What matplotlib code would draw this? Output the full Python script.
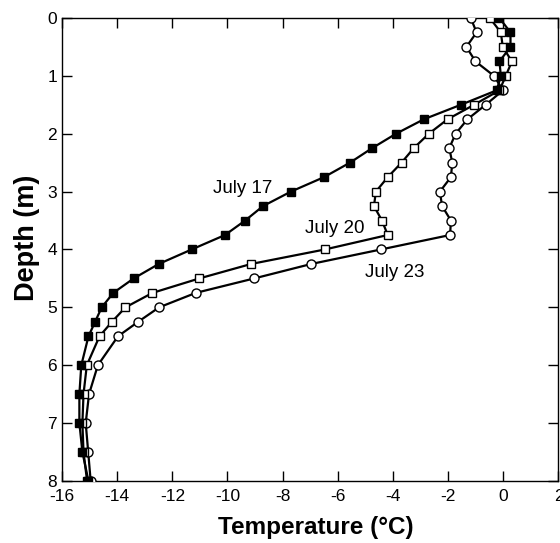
import matplotlib
matplotlib.use('Agg')
import matplotlib.pyplot as plt

plt.rcParams['font.family'] = ['Liberation Sans', 'DejaVu Sans']
plt.rcParams['axes.unicode_minus'] = False

# Tiefen (m) und Temperaturen (°C)
depth_17 = [0, 0.25, 0.5, 0.75, 1.0, 1.25, 1.5, 1.75, 2.0, 2.25, 2.5, 2.75, 3.0,
            3.25, 3.5, 3.75, 4.0, 4.25, 4.5, 4.75, 5.0, 5.25, 5.5, 6.0, 6.5, 7.0, 7.5, 8.0]
temp_17 = [-0.14, 0.26, 0.26, -0.14, -0.09, -0.24, -1.54, -2.88, -3.89, -4.76, -5.56, -6.5, -7.7,
           -8.71, -9.36, -10.09, -11.3, -12.49, -13.4, -14.14, -14.56, -14.8, -15.04,
           -15.3, -15.37, -15.37, -15.26, -15.04]

depth_20 = [0, 0.25, 0.5, 0.75, 1.0, 1.25, 1.5, 1.75, 2.0, 2.25, 2.5, 2.75, 3.0,
            3.25, 3.5, 3.75, 4.0, 4.25, 4.5, 4.75, 5.0, 5.25, 5.5, 6.0, 6.5, 7.0, 7.5, 8.0]
temp_20 = [-0.49, -0.09, -0.02, 0.31, 0.09, -0.14, -1.06, -2.02, -2.7, -3.25, -3.69, -4.19, -4.62,
           -4.69, -4.4, -4.19, -6.47, -9.14, -11.02, -12.72, -13.7, -14.19, -14.64,
           -15.1, -15.22, -15.26, -15.22, -15.09]

depth_23 = [0, 0.25, 0.5, 0.75, 1.0, 1.25, 1.5, 1.75, 2.0, 2.25, 2.5, 2.75, 3.0,
            3.25, 3.5, 3.75, 4.0, 4.25, 4.5, 4.75, 5.0, 5.25, 5.5, 6.0, 6.5, 7.0, 7.5, 8.0]
temp_23 = [-1.18, -0.97, -1.34, -1.01, -0.34, -0.01, -0.64, -1.3, -1.73, -1.96, -1.85, -1.9, -2.3,
           -2.22, -1.9, -1.93, -4.44, -6.96, -9.03, -11.15, -12.48, -13.24, -13.97,
           -14.7, -15.02, -15.14, -15.05, -14.96]

labels = ['July 17', 'July 20', 'July 23']
label_pos = [(-10.53, 2.95), (-7.2, 3.63), (-5.02, 4.39)]

fig = plt.figure(figsize=(5.6, 5.43), dpi=100)
ax = fig.add_axes([0.1107, 0.1142, 0.8866, 0.8527])

ax.plot(temp_23, depth_23, '-o', color='black', lw=1.6, ms=6.5,
        mfc='white', mec='black', mew=1.0, zorder=3)
ax.plot(temp_20, depth_20, '-s', color='black', lw=1.6, ms=6.3,
        mfc='white', mec='black', mew=1.0, zorder=4)
ax.plot(temp_17, depth_17, '-s', color='black', lw=1.6, ms=6.3,
        mfc='black', mec='black', mew=1.0, zorder=5)

for txt, (x, y) in zip(labels, label_pos):
    ax.text(x, y, txt, fontsize=13.5, ha='left', va='center')

ax.set_xlim(-16, 2)
ax.set_ylim(8, 0)
ax.set_xticks(range(-16, 3, 2))
ax.set_yticks(range(0, 9))
ax.tick_params(direction='in', length=7, width=1, top=True, right=True,
               labelsize=12.5)
ax.tick_params(axis='x', pad=5.5)
ax.tick_params(axis='y', pad=3.5)
for s in ax.spines.values():
    s.set_linewidth(1.0)

ax.set_xlabel('Temperature (°C)', fontsize=17.5, fontweight='bold', labelpad=9)
ax.set_ylabel('Depth (m)', fontsize=19.5, fontweight='bold', labelpad=5)
# Achsentitel leicht verschoben wie in der Vorlage
ax.xaxis.label.set_x(0.512)
ax.yaxis.label.set_y(0.526)

fig.savefig('out.png', dpi=100)
